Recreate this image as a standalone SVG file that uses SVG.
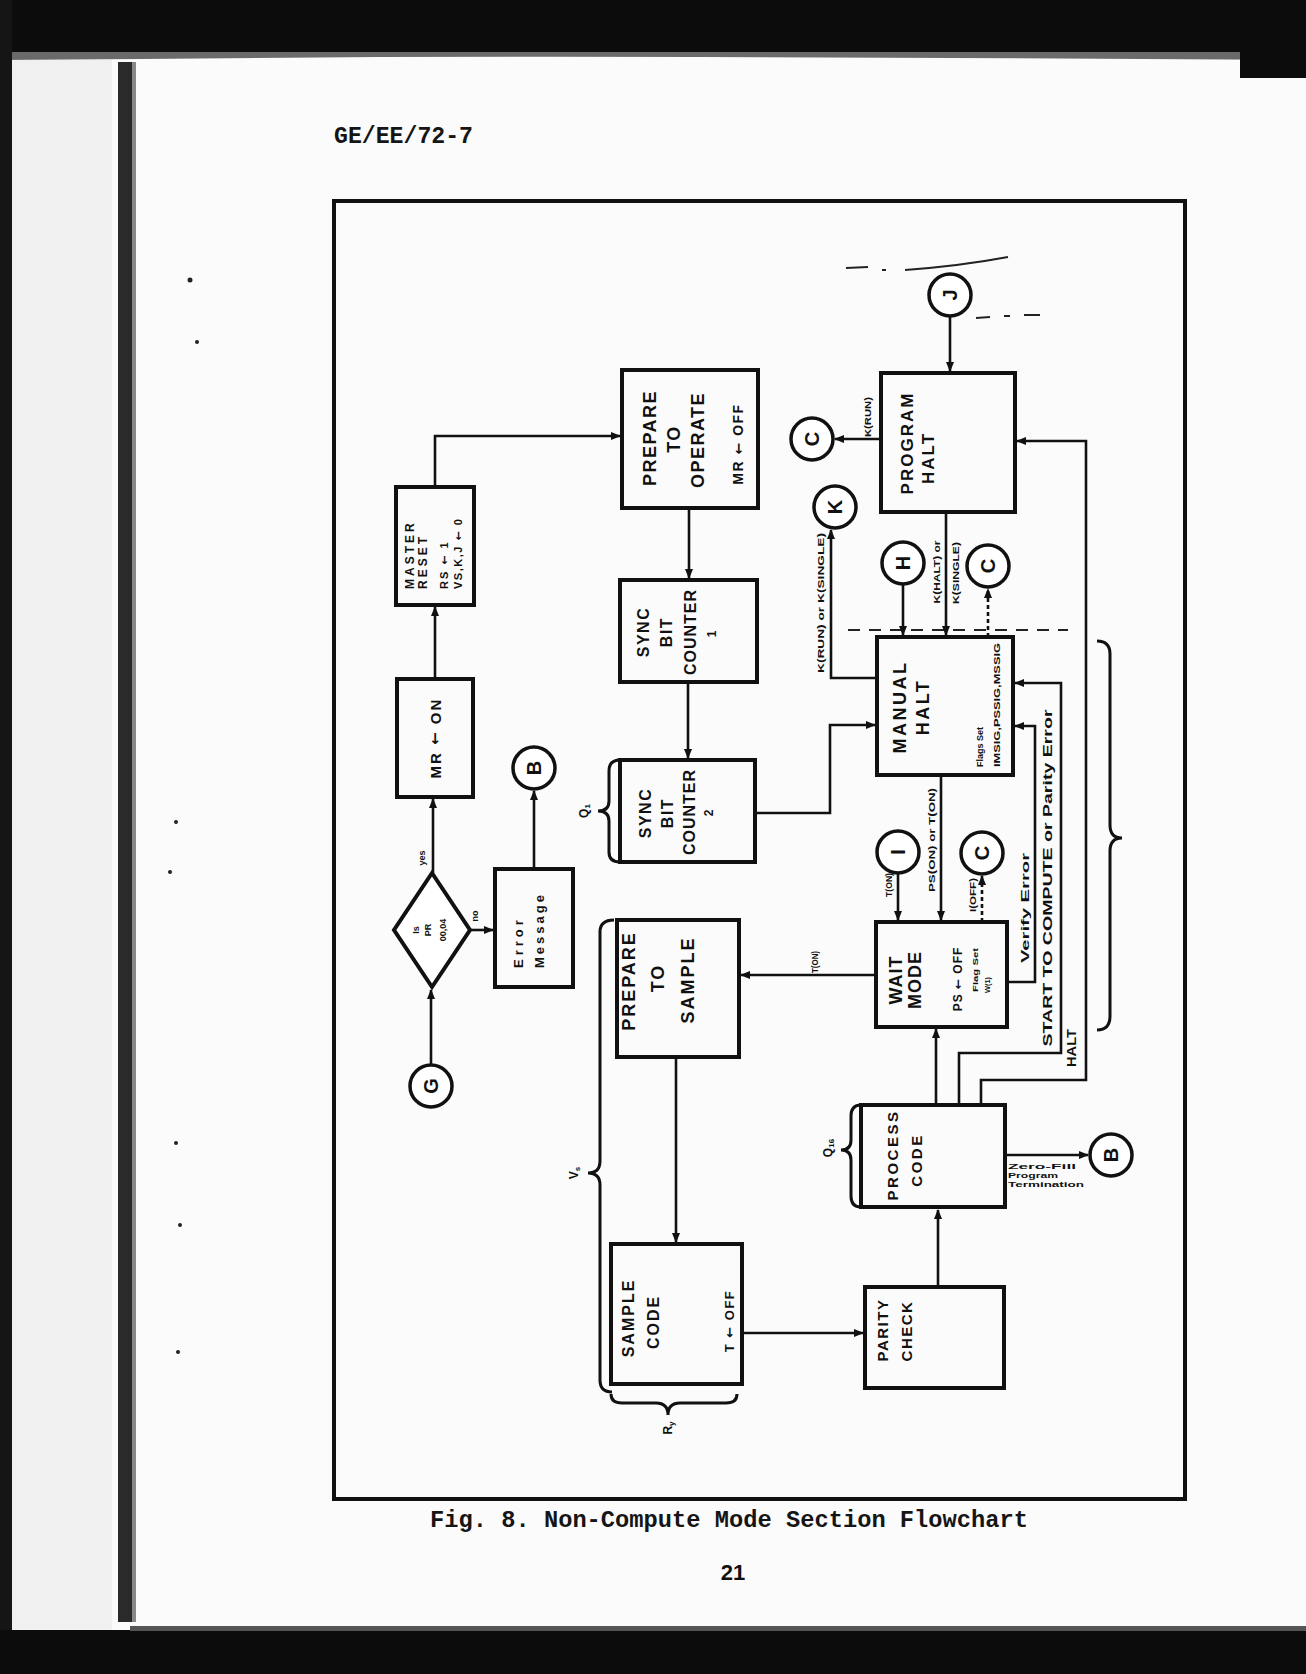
<svg xmlns="http://www.w3.org/2000/svg" width="1306" height="1674" viewBox="0 0 1306 1674">
<defs>
<marker id="ah" viewBox="0 0 10 10" refX="9" refY="5" markerWidth="10" markerHeight="10" markerUnits="userSpaceOnUse" orient="auto"><path d="M0,1 L10,5 L0,9 z" fill="#111"/></marker>
<style>
.box{fill:none;stroke:#111;stroke-width:4}
.cir{fill:#fff;stroke:#111;stroke-width:3.5}
.ln{fill:none;stroke:#111;stroke-width:2.6}
.dl{fill:none;stroke:#111;stroke-width:2.6;stroke-dasharray:4 3}
.br{fill:none;stroke:#111;stroke-width:3}
.t{font-family:'Liberation Sans',Arial,sans-serif;font-weight:bold;fill:#111;text-anchor:middle;dominant-baseline:central}
.ts{font-family:'Liberation Sans',Arial,sans-serif;font-weight:bold;fill:#111;text-anchor:start;dominant-baseline:central}
.lt{font-family:'Liberation Sans',Arial,sans-serif;font-weight:bold;fill:#111;font-size:20px;text-anchor:middle;dominant-baseline:central}
.sm{font-family:'Liberation Sans',Arial,sans-serif;font-weight:bold;fill:#111;font-size:9px;text-anchor:middle;dominant-baseline:central}
.ar{font-family:'DejaVu Sans',sans-serif;font-weight:bold}
.ty{font-family:'Liberation Mono','Courier New',monospace;font-weight:bold;fill:#151515}
</style>
</defs>

<!-- scanned page background -->
<rect x="0" y="0" width="1306" height="1674" fill="#fbfbfb"/>
<rect x="0" y="0" width="1306" height="52" fill="#0c0c0c"/>
<path d="M0,52 L1306,52 L1306,60 Q1000,58 700,57 Q400,56 140,59 L0,60 z" fill="#6a6a6a"/>
<rect x="1240" y="0" width="66" height="78" fill="#0c0c0c"/>
<rect x="0" y="0" width="12" height="1674" fill="#151515"/>
<rect x="12" y="60" width="100" height="1570" fill="#f0f0f0"/>
<rect x="118" y="62" width="14" height="1560" fill="#2a2a2a"/>
<rect x="132" y="62" width="4" height="1560" fill="#888"/>
<rect x="0" y="1630" width="1306" height="44" fill="#0c0c0c"/>
<rect x="130" y="1626" width="1176" height="5" fill="#555"/>
<g fill="#222">
<circle cx="190" cy="280" r="2.5"/><circle cx="197" cy="342" r="2"/><circle cx="176" cy="822" r="2"/><circle cx="170" cy="872" r="2"/><circle cx="176" cy="1143" r="2"/><circle cx="180" cy="1225" r="2"/><circle cx="178" cy="1352" r="2"/>
</g>

<!-- header / caption / page number -->
<text class="ty" x="334" y="143" font-size="24" textLength="139" lengthAdjust="spacingAndGlyphs">GE/EE/72-7</text>
<text class="ty" x="430" y="1527" font-size="24" textLength="598" lengthAdjust="spacingAndGlyphs">Fig. 8.  Non-Compute Mode Section Flowchart</text>
<text x="733" y="1580" font-family="'Liberation Sans',Arial,sans-serif" font-weight="bold" font-size="22" text-anchor="middle" fill="#111">21</text>

<!-- frame -->
<rect x="334" y="201" width="851" height="1298" fill="none" stroke="#111" stroke-width="4"/>

<!-- stray scan marks -->
<g stroke="#222" stroke-width="2" fill="none">
<path d="M846,268 L868,267"/><path d="M882,270 L886,270"/><path d="M905,270 Q960,266 1008,257"/>
<path d="M976,318 L990,317"/><path d="M1004,316 L1010,316"/><path d="M1024,315 L1040,315"/>
</g>
<path d="M848,630 L1068,630" stroke="#222" stroke-width="2" stroke-dasharray="12 9" fill="none"/>

<!-- connectors -->
<g id="connectors">
<path class="ln" d="M431,1065 V990" marker-end="url(#ah)"/>
<path class="ln" d="M433,873 V799" marker-end="url(#ah)"/>
<path class="ln" d="M435,679 V607" marker-end="url(#ah)"/>
<path class="ln" d="M435,487 V436 H620" marker-end="url(#ah)"/>
<path class="ln" d="M689,508 V578" marker-end="url(#ah)"/>
<path class="ln" d="M688,682 V758" marker-end="url(#ah)"/>
<path class="ln" d="M755,813 H830 V725 H875" marker-end="url(#ah)"/>
<path class="ln" d="M469,930 H493" marker-end="url(#ah)"/>
<path class="ln" d="M534,869 V791" marker-end="url(#ah)"/>
<path class="ln" d="M950,316 V371" marker-end="url(#ah)"/>
<path class="ln" d="M881,439 H835" marker-end="url(#ah)"/>
<path class="ln" d="M876,678 H831 V530" marker-end="url(#ah)"/>
<path class="ln" d="M903,584 V635" marker-end="url(#ah)"/>
<path class="ln" d="M946,512 V635" marker-end="url(#ah)"/>
<path class="dl" d="M988,637 V589" marker-end="url(#ah)"/>
<path class="ln" d="M941,775 V920" marker-end="url(#ah)"/>
<path class="ln" d="M898,873 V920" marker-end="url(#ah)"/>
<path class="dl" d="M982,922 V876" marker-end="url(#ah)"/>
<path class="ln" d="M876,975 H741" marker-end="url(#ah)"/>
<path class="ln" d="M1007,982 H1035 V726 H1015" marker-end="url(#ah)"/>
<path class="ln" d="M936,1105 V1029" stroke-width="4" marker-end="url(#ah)"/>
<path class="ln" d="M959,1105 V1053 H1061 V683 H1015" marker-end="url(#ah)"/>
<path class="ln" d="M981,1105 V1080 H1086 V441 H1017" marker-end="url(#ah)"/>
<path class="ln" d="M1005,1155 H1088" marker-end="url(#ah)"/>
<path class="ln" d="M676,1057 V1242" marker-end="url(#ah)"/>
<path class="ln" d="M742,1333 H863" marker-end="url(#ah)"/>
<path class="ln" d="M938,1287 V1210" marker-end="url(#ah)"/>
</g>

<!-- connector labels -->
<text class="sm" transform="translate(422,858) rotate(-90)">yes</text>
<text class="sm" transform="translate(475,916) rotate(-90)">no</text>
<text class="sm" transform="translate(868,417) rotate(-90)" textLength="40" lengthAdjust="spacingAndGlyphs">K(RUN)</text>
<text class="sm" transform="translate(821,603) rotate(-90)" textLength="140" lengthAdjust="spacingAndGlyphs">K(RUN) or K(SINGLE)</text>
<text class="sm" transform="translate(937,572) rotate(-90)" textLength="63" lengthAdjust="spacingAndGlyphs">K(HALT) or</text>
<text class="sm" transform="translate(956,573) rotate(-90)" textLength="62" lengthAdjust="spacingAndGlyphs">K(SINGLE)</text>
<text class="sm" transform="translate(889,885) rotate(-90)" textLength="24" lengthAdjust="spacingAndGlyphs" font-size="8">T(ON)</text>
<text class="sm" transform="translate(932,840) rotate(-90)" textLength="104" lengthAdjust="spacingAndGlyphs">PS(ON) or T(ON)</text>
<text class="sm" transform="translate(973,895) rotate(-90)" textLength="34" lengthAdjust="spacingAndGlyphs" font-size="8">I(OFF)</text>
<text class="t" font-size="11" transform="translate(1025,908) rotate(-90)" textLength="110" lengthAdjust="spacingAndGlyphs">Verify Error</text>
<text class="t" font-size="12" transform="translate(1048,878) rotate(-90)" textLength="337" lengthAdjust="spacingAndGlyphs">START TO COMPUTE or Parity Error</text>
<text class="t" font-size="12" transform="translate(1072,1048) rotate(-90)" textLength="38" lengthAdjust="spacingAndGlyphs">HALT</text>
<text class="sm" transform="translate(815,962) rotate(-90)" font-size="8" textLength="22" lengthAdjust="spacingAndGlyphs">T(ON)</text>
<text class="ts" font-size="8" x="1008" y="1166" textLength="68" lengthAdjust="spacingAndGlyphs">Zero-Fill</text>
<text class="ts" font-size="8" x="1008" y="1175" textLength="50" lengthAdjust="spacingAndGlyphs">Program</text>
<text class="ts" font-size="8" x="1008" y="1184" textLength="76" lengthAdjust="spacingAndGlyphs">Termination</text>

<!-- braces -->
<path class="br" d="M620,760 Q609,760 609,771 L609,801 Q609,811 598,811 Q609,811 609,821 L609,852 Q609,862 620,862"/>
<text class="t" font-size="12" transform="translate(584,811) rotate(-90)">Q<tspan font-size="8" dy="3">1</tspan></text>
<path class="br" d="M861,1105 Q851,1105 851,1116 L851,1140 Q851,1150 841,1150 Q851,1150 851,1160 L851,1196 Q851,1207 861,1207"/>
<text class="t" font-size="12" transform="translate(828,1148) rotate(-90)">Q<tspan font-size="8" dy="3">16</tspan></text>
<path class="br" d="M614,920 Q600,920 600,932 L600,1161 Q600,1173 588,1173 Q600,1173 600,1185 L600,1380 Q600,1392 612,1392"/>
<text class="t" font-size="12" transform="translate(574,1173) rotate(-90)">V<tspan font-size="8" dy="3">s</tspan></text>
<path class="br" d="M611,1394 Q611,1403 622,1403 L656,1403 Q668,1403 668,1415 Q668,1403 680,1403 L726,1403 Q737,1403 737,1394"/>
<text class="t" font-size="12" transform="translate(668,1428) rotate(-90)">R<tspan font-size="8" dy="3">y</tspan></text>
<path class="br" d="M1097,641 Q1110,641 1110,654 L1110,825 Q1110,838 1122,838 Q1110,838 1110,851 L1110,1016 Q1110,1030 1097,1030"/>

<!-- nodes -->
<g id="G"><circle class="cir" cx="431" cy="1086" r="21"/><text class="lt" transform="translate(431,1086) rotate(-90)">G</text></g>
<g id="decision">
<polygon points="432,873 470,930 432,987 394,930" fill="#fff" stroke="#111" stroke-width="4"/>
<text class="sm" font-size="8" transform="translate(416,930) rotate(-90)">Is</text>
<text class="sm" font-size="8" transform="translate(428,930) rotate(-90)">PR</text>
<text class="sm" font-size="8" transform="translate(443,930) rotate(-90)">00,04</text>
</g>
<g id="B1"><circle class="cir" cx="534" cy="768" r="21"/><text class="lt" transform="translate(534,768) rotate(-90)">B</text></g>
<g id="error">
<rect class="box" x="495" y="869" width="78" height="118"/>
<text class="ts" font-size="13" letter-spacing="4" transform="translate(518,968) rotate(-90)">Error</text>
<text class="ts" font-size="13" letter-spacing="3" transform="translate(539,968) rotate(-90)">Message</text>
</g>
<g id="mr_on">
<rect class="box" x="397" y="679" width="76" height="118"/>
<text class="t" font-size="15" letter-spacing="2" transform="translate(435,738) rotate(-90)">MR <tspan class="ar">←</tspan> ON</text>
</g>
<g id="master_reset">
<rect class="box" x="396" y="487" width="78" height="118"/>
<text class="ts" font-size="12" letter-spacing="3" transform="translate(410,589) rotate(-90)">MASTER</text>
<text class="ts" font-size="12" letter-spacing="3" transform="translate(423,589) rotate(-90)">RESET</text>
<text class="ts" font-size="11" letter-spacing="2" transform="translate(444,589) rotate(-90)">RS <tspan class="ar">←</tspan> 1</text>
<text class="ts" font-size="11" letter-spacing="1.5" transform="translate(458,589) rotate(-90)">VS,K,J <tspan class="ar">←</tspan> 0</text>
</g>
<g id="prepare_operate">
<rect class="box" x="622" y="370" width="136" height="138"/>
<text class="t" font-size="18" letter-spacing="1.5" transform="translate(650,438) rotate(-90)">PREPARE</text>
<text class="t" font-size="18" letter-spacing="1.5" transform="translate(674,439) rotate(-90)">TO</text>
<text class="t" font-size="18" letter-spacing="1.5" transform="translate(698,440) rotate(-90)">OPERATE</text>
<text class="t" font-size="14" letter-spacing="1.5" transform="translate(738,444) rotate(-90)">MR <tspan class="ar">←</tspan> OFF</text>
</g>
<g id="sync1">
<rect class="box" x="620" y="580" width="137" height="102"/>
<text class="t" font-size="16" letter-spacing="1.5" transform="translate(643,632) rotate(-90)">SYNC</text>
<text class="t" font-size="16" letter-spacing="1.5" transform="translate(666,632) rotate(-90)">BIT</text>
<text class="t" font-size="16" letter-spacing="1" transform="translate(690,632) rotate(-90)">COUNTER</text>
<text class="t" font-size="12" transform="translate(712,634) rotate(-90)">1</text>
</g>
<g id="sync2">
<rect class="box" x="620" y="760" width="135" height="102"/>
<text class="t" font-size="16" letter-spacing="1.5" transform="translate(645,813) rotate(-90)">SYNC</text>
<text class="t" font-size="16" letter-spacing="1.5" transform="translate(667,813) rotate(-90)">BIT</text>
<text class="t" font-size="16" letter-spacing="1" transform="translate(689,812) rotate(-90)">COUNTER</text>
<text class="t" font-size="12" transform="translate(709,813) rotate(-90)">2</text>
</g>
<g id="J"><circle class="cir" cx="950" cy="295" r="21"/><text class="lt" transform="translate(950,295) rotate(-90)">J</text></g>
<g id="program_halt">
<rect class="box" x="881" y="373" width="134" height="139"/>
<text class="t" font-size="17" letter-spacing="2" transform="translate(907,443) rotate(-90)">PROGRAM</text>
<text class="t" font-size="17" letter-spacing="2" transform="translate(928,458) rotate(-90)">HALT</text>
</g>
<g id="C1"><circle class="cir" cx="812" cy="439" r="21"/><text class="lt" transform="translate(812,439) rotate(-90)">C</text></g>
<g id="K"><circle class="cir" cx="835" cy="507" r="21"/><text class="lt" transform="translate(835,507) rotate(-90)">K</text></g>
<g id="H"><circle class="cir" cx="903" cy="563" r="21"/><text class="lt" transform="translate(903,563) rotate(-90)">H</text></g>
<g id="C2"><circle class="cir" cx="988" cy="566" r="21"/><text class="lt" transform="translate(988,566) rotate(-90)">C</text></g>
<g id="manual_halt">
<rect class="box" x="877" y="637" width="136" height="138"/>
<text class="t" font-size="18" letter-spacing="2.5" transform="translate(900,707) rotate(-90)">MANUAL</text>
<text class="t" font-size="18" letter-spacing="2.5" transform="translate(923,707) rotate(-90)">HALT</text>
<text class="t" font-size="9" transform="translate(980,747) rotate(-90)" textLength="40" lengthAdjust="spacingAndGlyphs">Flags Set</text>
<text class="t" font-size="9" transform="translate(997,705) rotate(-90)" textLength="124" lengthAdjust="spacingAndGlyphs">IMSIG,PSSIG,MSSIG</text>
</g>
<g id="I"><circle class="cir" cx="898" cy="852" r="21"/><text class="lt" transform="translate(898,852) rotate(-90)">I</text></g>
<g id="C3"><circle class="cir" cx="982" cy="853" r="21"/><text class="lt" transform="translate(982,853) rotate(-90)">C</text></g>
<g id="wait_mode">
<rect class="box" x="876" y="922" width="131" height="105"/>
<text class="t" font-size="18" letter-spacing="1" transform="translate(896,980) rotate(-90)">WAIT</text>
<text class="t" font-size="18" letter-spacing="1" transform="translate(915,980) rotate(-90)">MODE</text>
<text class="t" font-size="12" letter-spacing="1" transform="translate(958,979) rotate(-90)">PS <tspan class="ar">←</tspan> OFF</text>
<text class="t" font-size="8" transform="translate(975,970) rotate(-90)" textLength="44" lengthAdjust="spacingAndGlyphs">Flag Set</text>
<text class="t" font-size="8" transform="translate(987,985) rotate(-90)" textLength="16" lengthAdjust="spacingAndGlyphs">W(1)</text>
</g>
<g id="prepare_sample">
<rect class="box" x="617" y="920" width="122" height="137"/>
<text class="t" font-size="18" letter-spacing="2" transform="translate(629,981) rotate(-90)">PREPARE</text>
<text class="t" font-size="18" letter-spacing="2" transform="translate(658,978) rotate(-90)">TO</text>
<text class="t" font-size="18" letter-spacing="2" transform="translate(688,980) rotate(-90)">SAMPLE</text>
</g>
<g id="sample_code">
<rect class="box" x="611" y="1244" width="131" height="140"/>
<text class="t" font-size="16" letter-spacing="2" transform="translate(628,1318) rotate(-90)">SAMPLE</text>
<text class="t" font-size="16" letter-spacing="2" transform="translate(653,1322) rotate(-90)">CODE</text>
<text class="t" font-size="13" letter-spacing="1.5" transform="translate(729,1321) rotate(-90)">T <tspan class="ar">←</tspan> OFF</text>
</g>
<g id="process_code">
<rect class="box" x="861" y="1105" width="144" height="102"/>
<text class="t" font-size="15" letter-spacing="2.5" transform="translate(892,1155) rotate(-90)">PROCESS</text>
<text class="t" font-size="15" letter-spacing="2.5" transform="translate(916,1160) rotate(-90)">CODE</text>
</g>
<g id="B2"><circle class="cir" cx="1111" cy="1155" r="21"/><text class="lt" transform="translate(1111,1155) rotate(-90)">B</text></g>
<g id="parity_check">
<rect class="box" x="865" y="1287" width="139" height="101"/>
<text class="t" font-size="15" letter-spacing="1.5" transform="translate(882,1330) rotate(-90)">PARITY</text>
<text class="t" font-size="15" letter-spacing="1.5" transform="translate(906,1331) rotate(-90)">CHECK</text>
</g>
</svg>
